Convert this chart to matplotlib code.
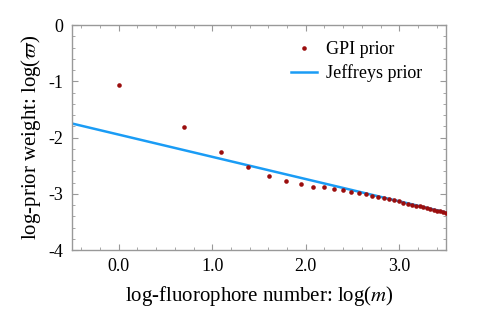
import numpy as np
import matplotlib
matplotlib.use("Agg")
import matplotlib.pyplot as plt
from matplotlib.ticker import MultipleLocator, FormatStrFormatter

plt.rcParams['font.family'] = ['Liberation Serif', 'DejaVu Serif']
plt.rcParams['mathtext.fontset'] = 'stix'
plt.rcParams['axes.unicode_minus'] = False

m_values = list(range(1, 34))
gpi_log_prior = [-1.06, -1.81, -2.26, -2.53, -2.68, -2.77, -2.83, -2.87, -2.88, -2.92,
                 -2.93, -2.96, -2.99, -3.01, -3.03, -3.05, -3.075, -3.095, -3.115, -3.135,
                 -3.155, -3.175, -3.19, -3.21, -3.225, -3.24, -3.255, -3.27, -3.285, -3.30,
                 -3.31, -3.325, -3.335]
jeffreys_x = [-0.5, 3.5]
jeffreys_y = [-1.75, -3.33]

fig = plt.figure(figsize=(5.0, 3.13), dpi=100)
ax = fig.add_axes([0.144, 0.201, 0.748, 0.719])

ax.plot(jeffreys_x, jeffreys_y, color='#1a9cf5', lw=1.8, label='Jeffreys prior', zorder=2)
ax.plot(np.log(m_values), gpi_log_prior, 'o', color='#9b0e0e', ms=3.3, mec='none',
        label='GPI prior', zorder=3)

ax.set_xlim(-0.5, 3.5)
ax.set_ylim(-4, 0)
ax.xaxis.set_major_locator(MultipleLocator(1.0))
ax.xaxis.set_minor_locator(MultipleLocator(0.2))
ax.yaxis.set_major_locator(MultipleLocator(1.0))
ax.yaxis.set_minor_locator(MultipleLocator(0.2))
ax.xaxis.set_major_formatter(FormatStrFormatter('%.1f'))
ax.yaxis.set_major_formatter(FormatStrFormatter('%d'))

for s in ax.spines.values():
    s.set_color('#999999')
    s.set_linewidth(1.0)
ax.tick_params(which='both', direction='in', top=True, right=True, color='#999999',
               labelsize=13, pad=6)
ax.tick_params(which='major', length=4, width=0.8)
ax.tick_params(which='minor', length=2, width=0.6)

ax.set_xlabel('log-fluorophore number: log($m$)', fontsize=15, labelpad=6)
ax.set_ylabel(r'log-prior weight: log($\varpi$)', fontsize=15, labelpad=4)

handles, labels = ax.get_legend_handles_labels()
ax.legend(handles[::-1], labels[::-1], loc='upper right', frameon=False, fontsize=13,
          handlelength=1.4, handletextpad=0.5, borderaxespad=0.0, labelspacing=0.35,
          bbox_to_anchor=(0.955, 0.96))

fig.savefig('out.png', dpi=100)
